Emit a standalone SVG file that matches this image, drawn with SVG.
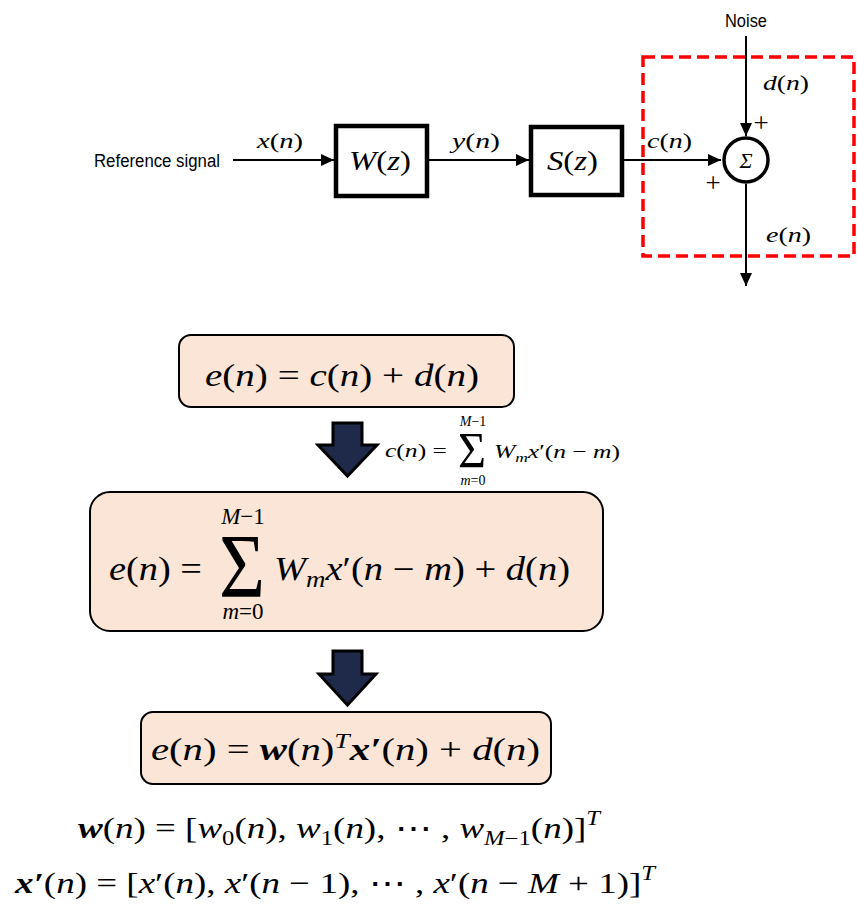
<svg xmlns="http://www.w3.org/2000/svg" width="857" height="910" viewBox="0 0 857 910">
<defs>
<style>
.sans{font-family:"Liberation Sans",Arial,sans-serif;fill:#000}
.m{font-family:"Liberation Serif","DejaVu Serif",serif;fill:#000}
.i{font-style:italic}
.b{font-weight:bold;font-style:italic}
.blk{fill:none;stroke:#000;stroke-width:4.5}
.eq{fill:#FBE5D6;stroke:#000;stroke-width:2}
.wire{fill:none;stroke:#000;stroke-width:2}
.down{fill:#1F2A4A;stroke:#000;stroke-width:3;stroke-linejoin:miter}
</style>
<marker id="ah" markerUnits="userSpaceOnUse" markerWidth="13" markerHeight="12" refX="13" refY="6" orient="auto">
<path d="M0,0 L13,6 L0,12 z" fill="#000"/>
</marker>
</defs>
<rect width="857" height="910" fill="#fff"/>

<g id="connectors">
<path class="wire" d="M233,160 H334" marker-end="url(#ah)"/>
<path class="wire" d="M428,160 H529" marker-end="url(#ah)"/>
<path class="wire" d="M623,160 H721" marker-end="url(#ah)"/>
<path class="wire" d="M746,36 V136" marker-end="url(#ah)"/>
<path class="wire" d="M746,184 V286" marker-end="url(#ah)"/>
</g>

<g id="reference-signal">
<text class="sans" x="94" y="167" font-size="18" textLength="126" lengthAdjust="spacingAndGlyphs">Reference signal</text>
</g>
<g id="label-x">
<text class="m i" x="257" y="148" font-size="22" textLength="46" lengthAdjust="spacingAndGlyphs">x<tspan font-style="normal">(</tspan>n<tspan font-style="normal">)</tspan></text>
</g>
<g id="W">
<rect class="blk" x="336" y="126" width="91" height="70"/>
<text class="m i" x="349" y="170" font-size="27" textLength="62" lengthAdjust="spacingAndGlyphs">W<tspan font-style="normal">(</tspan>z<tspan font-style="normal">)</tspan></text>
</g>
<g id="label-y">
<text class="m i" x="452" y="148" font-size="22" textLength="48" lengthAdjust="spacingAndGlyphs">y<tspan font-style="normal">(</tspan>n<tspan font-style="normal">)</tspan></text>
</g>
<g id="S">
<rect class="blk" x="531" y="127" width="91" height="68"/>
<text class="m i" x="547" y="170" font-size="27" textLength="51" lengthAdjust="spacingAndGlyphs">S<tspan font-style="normal">(</tspan>z<tspan font-style="normal">)</tspan></text>
</g>
<g id="label-c">
<text class="m i" x="647" y="148" font-size="22" textLength="45" lengthAdjust="spacingAndGlyphs">c<tspan font-style="normal">(</tspan>n<tspan font-style="normal">)</tspan></text>
</g>
<g id="noise">
<text class="sans" x="746" y="27" font-size="18" text-anchor="middle" textLength="42" lengthAdjust="spacingAndGlyphs">Noise</text>
</g>
<g id="region">
<rect x="643" y="57" width="211" height="199" fill="none" stroke="#FF0000" stroke-width="3.5" stroke-dasharray="12,6"/>
</g>
<g id="label-d">
<text class="m i" x="763" y="90" font-size="22" textLength="46" lengthAdjust="spacingAndGlyphs">d<tspan font-style="normal">(</tspan>n<tspan font-style="normal">)</tspan></text>
</g>
<g id="sum">
<circle cx="746" cy="160" r="22" fill="#fff" stroke="#000" stroke-width="3.5"/>
<text class="m i" x="746" y="168" font-size="22" text-anchor="middle">Σ</text>
<text class="m" x="761" y="132" font-size="27" text-anchor="middle">+</text>
<text class="m" x="713" y="192" font-size="27" text-anchor="middle">+</text>
</g>
<g id="label-e">
<text class="m i" x="766" y="242" font-size="22" textLength="45" lengthAdjust="spacingAndGlyphs">e<tspan font-style="normal">(</tspan>n<tspan font-style="normal">)</tspan></text>
</g>

<g id="eq1">
<rect class="eq" x="179" y="335" width="335" height="72" rx="12"/>
<text class="m i" x="205" y="386" font-size="31" textLength="274" lengthAdjust="spacingAndGlyphs">e<tspan font-style="normal">(</tspan>n<tspan font-style="normal">) = </tspan>c<tspan font-style="normal">(</tspan>n<tspan font-style="normal">) + </tspan>d<tspan font-style="normal">(</tspan>n<tspan font-style="normal">)</tspan></text>
</g>

<g id="arrow1">
<path class="down" d="M333,423 H362 V445 H377 L347.5,476 L318,445 H333 Z"/>
</g>
<g id="eq-c">
<text class="m i" x="385" y="457" font-size="19" textLength="62" lengthAdjust="spacingAndGlyphs">c<tspan font-style="normal">(</tspan>n<tspan font-style="normal">) =</tspan></text>
<text class="m" x="472" y="467" font-size="50" text-anchor="middle" textLength="28" lengthAdjust="spacingAndGlyphs">Σ</text>
<text class="m i" x="473" y="426" font-size="14" text-anchor="middle">M<tspan font-style="normal">−1</tspan></text>
<text class="m i" x="473" y="485" font-size="14" text-anchor="middle">m<tspan font-style="normal">=0</tspan></text>
<text class="m i" x="494" y="458" font-size="19" textLength="126" lengthAdjust="spacingAndGlyphs">W<tspan font-size="13" dy="4">m</tspan><tspan dy="-4">x</tspan><tspan font-style="normal">′(</tspan>n<tspan font-style="normal"> − </tspan>m<tspan font-style="normal">)</tspan></text>
</g>

<g id="eq2">
<rect class="eq" x="90" y="492" width="513" height="139" rx="20"/>
<text class="m i" x="109" y="580" font-size="33" textLength="93" lengthAdjust="spacingAndGlyphs">e<tspan font-style="normal">(</tspan>n<tspan font-style="normal">) =</tspan></text>
<text class="m" x="242" y="597" font-size="90" text-anchor="middle" textLength="46" lengthAdjust="spacingAndGlyphs">Σ</text>
<text class="m i" x="243" y="524" font-size="23" text-anchor="middle">M<tspan font-style="normal">−1</tspan></text>
<text class="m i" x="243" y="619" font-size="23" text-anchor="middle">m<tspan font-style="normal">=0</tspan></text>
<text class="m i" x="274" y="580" font-size="33" textLength="296" lengthAdjust="spacingAndGlyphs">W<tspan font-size="23" dy="7">m</tspan><tspan dy="-7">x</tspan><tspan font-style="normal">′(</tspan>n<tspan font-style="normal"> − </tspan>m<tspan font-style="normal">) + </tspan>d<tspan font-style="normal">(</tspan>n<tspan font-style="normal">)</tspan></text>
</g>

<g id="arrow2">
<path class="down" d="M333,651 H362 V674 H376 L347.5,705 L319,674 H333 Z"/>
</g>

<g id="eq3">
<rect class="eq" x="141" y="712" width="410" height="72" rx="12"/>
<text class="m i" x="151" y="760" font-size="31" textLength="389" lengthAdjust="spacingAndGlyphs">e<tspan font-style="normal">(</tspan>n<tspan font-style="normal">) = </tspan><tspan class="b">w</tspan><tspan font-style="normal">(</tspan>n<tspan font-style="normal">)</tspan><tspan font-size="21" dy="-12">T</tspan><tspan class="b" dy="12">x′</tspan><tspan font-style="normal">(</tspan>n<tspan font-style="normal">) + </tspan>d<tspan font-style="normal">(</tspan>n<tspan font-style="normal">)</tspan></text>
</g>

<g id="def-w">
<text class="m i" x="78" y="838" font-size="30" textLength="522" lengthAdjust="spacingAndGlyphs"><tspan class="b">w</tspan><tspan font-style="normal">(</tspan>n<tspan font-style="normal">) = [</tspan>w<tspan font-size="20" dy="7" font-style="normal">0</tspan><tspan dy="-7" font-style="normal">(</tspan>n<tspan font-style="normal">), </tspan>w<tspan font-size="20" dy="7" font-style="normal">1</tspan><tspan dy="-7" font-style="normal">(</tspan>n<tspan font-style="normal">), ⋯ , </tspan>w<tspan font-size="20" dy="7">M</tspan><tspan font-size="20" font-style="normal">−1</tspan><tspan dy="-7" font-style="normal">(</tspan>n<tspan font-style="normal">)]</tspan><tspan font-size="20" dy="-13">T</tspan></text>
</g>
<g id="def-x">
<text class="m i" x="15" y="893" font-size="30" textLength="640" lengthAdjust="spacingAndGlyphs"><tspan class="b">x′</tspan><tspan font-style="normal">(</tspan>n<tspan font-style="normal">) = [</tspan>x<tspan font-style="normal">′(</tspan>n<tspan font-style="normal">), </tspan>x<tspan font-style="normal">′(</tspan>n<tspan font-style="normal"> − 1), ⋯ , </tspan>x<tspan font-style="normal">′(</tspan>n<tspan font-style="normal"> − </tspan>M<tspan font-style="normal"> + 1)]</tspan><tspan font-size="20" dy="-13">T</tspan></text>
</g>
</svg>
